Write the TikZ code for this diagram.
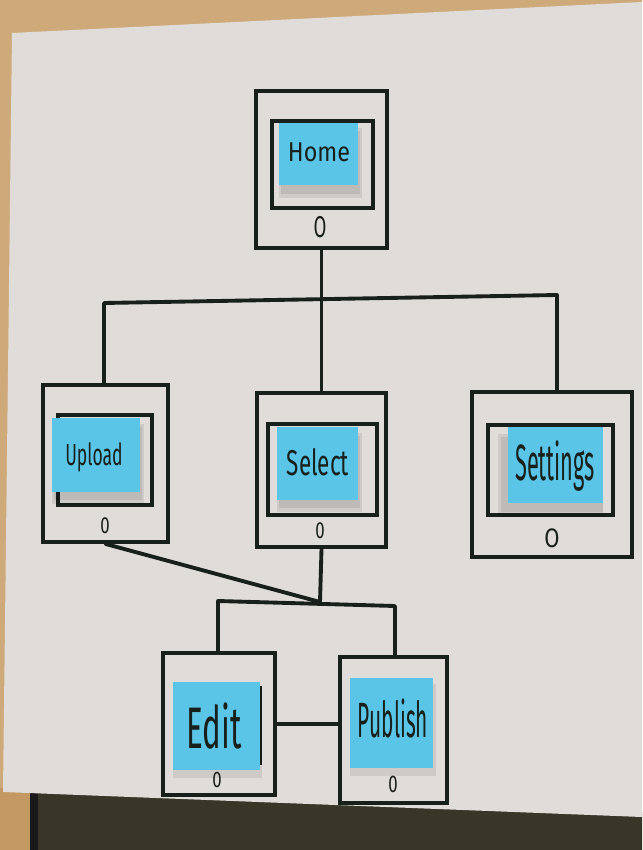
\documentclass[tikz,border=0pt]{standalone}
\usepackage{fontspec}
\newfontfamily\hand{Fira Sans}
\usetikzlibrary{fit}
\definecolor{wood}{RGB}{206,170,122}
\definecolor{woodlow}{RGB}{196,152,98}
\definecolor{paper}{RGB}{224,220,217}
\definecolor{dark}{RGB}{56,54,38}
\definecolor{ink}{RGB}{24,32,28}
\definecolor{sticky}{RGB}{90,197,230}
\tikzset{
  phone/.style={draw=ink, line width=3.3pt, inner sep=0pt, rectangle},
  screen/.style={draw=ink, line width=3pt, inner sep=0pt, rectangle},
  note/.style={fill=sticky, inner sep=0pt, rectangle},
  shade/.style={fill=black, opacity=0.08, inner sep=0pt, rectangle},
  link/.style={draw=ink, line width=3.3pt, line cap=round, line join=round},
  word/.style={text=ink, inner sep=0pt, anchor=base, font=\hand},
}
\newcommand{\hw}[3]{\resizebox{#1}{#2}{#3}}
\begin{document}
\begin{tikzpicture}[x=0.03cm, y=-0.03cm]
\useasboundingbox (0,0) rectangle (642,850);
% background
\fill[wood] (0,0) rectangle (642,850);
\fill[dark] (0,788) -- (642,812) -- (642,850) -- (0,850) -- cycle;
\fill[woodlow] (0,788) rectangle (30,850);
\fill[black!90] (30,789) rectangle (38,850);
\fill[paper] (12,33) -- (642,2) -- (642,817) -- (3,792) -- cycle;

% ---- Home
\node[phone, fit={(256,91) (387,248)}] (home) {};
\node[screen, fit={(272,121) (373,208)}] (homescr) {};
\node[shade, fit={(279,128) (362,198)}] (homeshd) {};
\node[shade, fit={(281,131) (360,194)}] (homeshd2) {};
\node[note, fit={(279,123) (358,185)}] (homenote) {};
\node[word] (hometxt) at (319,162) {\hw{53pt}{16pt}{Home}};
\node[word] (homeo) at (320,238) {\hw{11pt}{18pt}{O}};

% ---- Upload
\node[phone, fit={(43,385) (168,542)}] (upload) {};
\node[screen, fit={(58,415) (152,505)}] (uploadscr) {};
\node[shade, fit={(52,424) (144,504)}] (uploadshd) {};
\node[shade, fit={(54,427) (142,500)}] (uploadshd2) {};
\node[note, fit={(52,418) (140,492)}] (uploadnote) {};
\node[word] (uploadtxt) at (94,465) {\hw{49pt}{19.5pt}{Upload}};
\node[word] (uploado) at (105,533) {\hw{8pt}{13.5pt}{0}};

% ---- Select
\node[phone, fit={(257,393) (386,547)}] (select) {};
\node[screen, fit={(268,424) (377,515)}] (selectscr) {};
\node[shade, fit={(277,433) (362,512)}] (selectshd) {};
\node[shade, fit={(279,436) (360,508)}] (selectshd2) {};
\node[note, fit={(277,427) (358,500)}] (selectnote) {};
\node[word] (selecttxt) at (318,475) {\hw{53pt}{23pt}{Select}};
\node[word] (selecto) at (320,538) {\hw{8pt}{13.5pt}{0}};

% ---- Settings
\node[phone, fit={(472,392) (632,557)}] (settings) {};
\node[screen, fit={(488,425) (613,515)}] (settingsscr) {};
\node[shade, fit={(498,434) (603,516)}] (settingsshd) {};
\node[shade, fit={(501,437) (603,512)}] (settingsshd2) {};
\node[note, fit={(508,427) (603,503)}] (settingsnote) {};
\node[word] (settingstxt) at (555,480) {\hw{68pt}{34pt}{Settings}};
\node[word] (settingso) at (552,547) {\hw{13pt}{16pt}{O}};

% ---- Edit
\node[phone, fit={(163,653) (275,795)}] (edit) {};
\node[screen, fit={(175,688) (260,763)}] (editscr) {};
\node[shade, fit={(173,688) (262,778)}] (editshd) {};
\node[note, fit={(173,682) (260,770)}] (editnote) {};
\node[word] (edittxt) at (214,748) {\hw{47pt}{39pt}{Edit}};
\node[word] (edito) at (217,787) {\hw{8pt}{13pt}{0}};

% ---- Publish
\node[phone, fit={(340,657) (447,803)}] (publish) {};
\node[shade, fit={(350,684) (436,776)}] (publishshd) {};
\node[note, fit={(350,678) (433,768)}] (publishnote) {};
\node[word] (publishtxt) at (393,737) {\hw{60pt}{33pt}{Publish}};
\node[word] (publisho) at (393,792) {\hw{8pt}{14pt}{0}};

% ---- connectors
\coordinate (tl) at (104,303);
\coordinate (tr) at (557,295);
\coordinate (bj) at (320,602);
\coordinate (bl) at (218,601);
\coordinate (br) at (395,606);

\draw[link] (home.south) -- (select.north);
\draw[link] (upload.north -| tl) -- (tl) -- (tr) -- (settings.north -| tr);
\draw[link] (upload.south) -- (bj);
\draw[link] (select.south) -- (bj);
\draw[link] (edit.north -| bl) -- (bl) -- (br) -- (publish.north -| br);
\draw[link] (edit.east) -- (edit.east -| publish.west);
\end{tikzpicture}
\end{document}
